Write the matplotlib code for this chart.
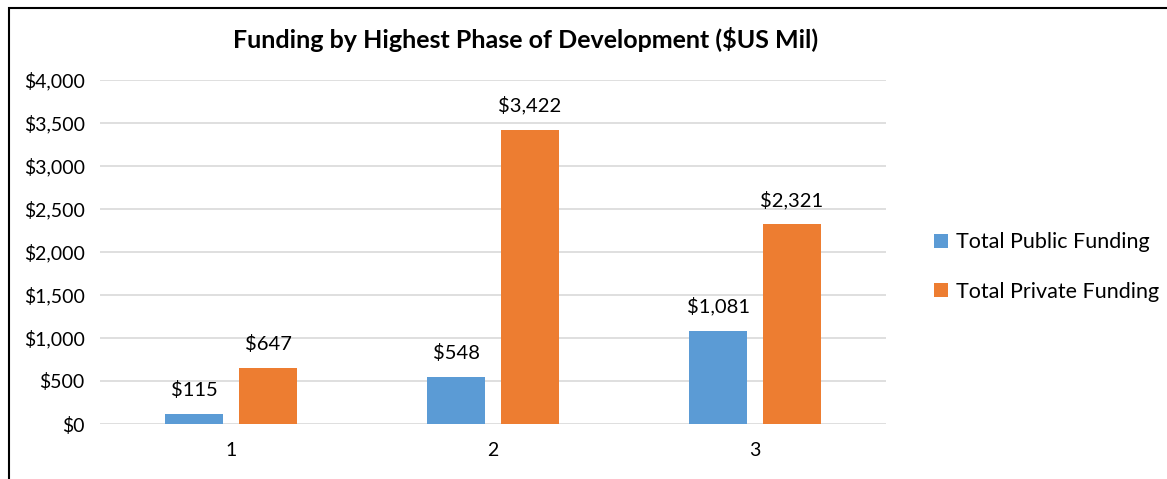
import numpy as np
import matplotlib.pyplot as plt
from matplotlib.patches import Rectangle
from matplotlib.ticker import FuncFormatter

plt.rcParams['font.family'] = ['Lato', 'DejaVu Sans']

#%% datos
fases = ['1', '2', '3']
publico = [115, 548, 1081]
privado = [647, 3422, 2321]
series = ['Total Public Funding', 'Total Private Funding']
colores = ['#5B9BD5', '#ED7D31']

#%% figura
W, H = 1167, 479
fig = plt.figure(figsize=(W/100, H/100), dpi=100)
ax = fig.add_axes([100/W, 1-424/H, 786/W, 344/H])

x = np.arange(1, len(fases)+1)
ancho = 0.22
off = 0.141
b1 = ax.bar(x-off, publico, ancho, color=colores[0], label=series[0], zorder=3)
b2 = ax.bar(x+off, privado, ancho, color=colores[1], label=series[1], zorder=3)

for barras, vals in ((b1, publico), (b2, privado)):
    for r, v in zip(barras, vals):
        ax.annotate(f'${v:,.0f}', (r.get_x()+r.get_width()/2, v),
                    xytext=(0, 11), textcoords='offset points',
                    ha='center', va='bottom', fontsize=14.5, color='#000000')

ax.set_xlim(0.5, 3.5)
ax.set_ylim(0, 4000)
ax.set_yticks(np.arange(0, 4001, 500))
ax.yaxis.set_major_formatter(FuncFormatter(lambda v, p: f'${v:,.0f}'))
ax.set_xticks(x)
ax.set_xticklabels(fases)
ax.tick_params(axis='both', length=0, labelsize=14, colors='#000000')
ax.tick_params(axis='x', pad=13)
ax.tick_params(axis='y', pad=11)
ax.grid(axis='y', color='#D9D9D9', linewidth=1.2, zorder=0)
for s in ax.spines.values():
    s.set_visible(False)

fig.text(526/W, 1-40/H, 'Funding by Highest Phase of Development ($US Mil)',
         ha='center', va='center', fontsize=18, fontweight='bold')

ax.legend(loc='center left', bbox_to_anchor=(915/W, 1-267/H),
          bbox_transform=fig.transFigure, frameon=False, fontsize=15.5,
          handlelength=0.65, handleheight=0.65, handletextpad=0.35,
          labelspacing=1.35)

# borde de la figura
fig.patches.append(Rectangle((8.5/W, -0.1), 1.2, 1-7.5/H+0.1,
                             transform=fig.transFigure, fill=False,
                             edgecolor='#000000', linewidth=1.5))

fig.savefig('out.png', dpi=100)
